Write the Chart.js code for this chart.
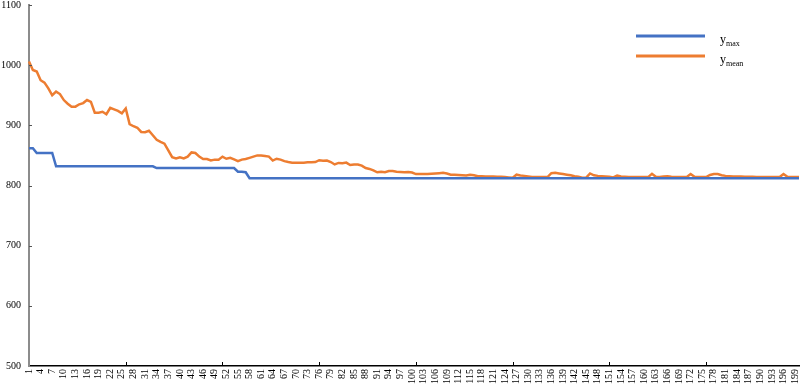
<!DOCTYPE html>
<html>
<head>
<meta charset="utf-8">
<script src="https://cdn.jsdelivr.net/npm/chart.js@4.4.1/dist/chart.umd.min.js"></script>
<style>
  body { margin: 0; background: #fff; }
</style>
</head>
<body>
<canvas id="convChart" width="801" height="388"></canvas>
<script>
// Iterazioni 1..200 (asse X)
const categories = Array.from({ length: 200 }, (_, i) => String(i + 1));

// Valori
const yMax = [
  862, 862, 854, 854, 854, 854, 854, 832, 832, 832,
  832, 832, 832, 832, 832, 832, 832, 832, 832, 832,
  832, 832, 832, 832, 832, 832, 832, 832, 832, 832,
  832, 832, 832, 829, 829, 829, 829, 829, 829, 829,
  829, 829, 829, 829, 829, 829, 829, 829, 829, 829,
  829, 829, 829, 829, 823, 823, 822, 812, 812, 812,
  812, 812, 812, 812, 812, 812, 812, 812, 812, 812,
  812, 812, 812, 812, 812, 812, 812, 812, 812, 812,
  812, 812, 812, 812, 812, 812, 812, 812, 812, 812,
  812, 812, 812, 812, 812, 812, 812, 812, 812, 812,
  812, 812, 812, 812, 812, 812, 812, 812, 812, 812,
  812, 812, 812, 812, 812, 812, 812, 812, 812, 812,
  812, 812, 812, 812, 812, 812, 812, 812, 812, 812,
  812, 812, 812, 812, 812, 812, 812, 812, 812, 812,
  812, 812, 812, 812, 812, 812, 812, 812, 812, 812,
  812, 812, 812, 812, 812, 812, 812, 812, 812, 812,
  812, 812, 812, 812, 812, 812, 812, 812, 812, 812,
  812, 812, 812, 812, 812, 812, 812, 812, 812, 812,
  812, 812, 812, 812, 812, 812, 812, 812, 812, 812,
  812, 812, 812, 812, 812, 812, 812, 812, 812, 812
];

const yMean = [
  1006, 992, 989.5, 975, 971, 961.5, 950, 956, 952, 942,
  936, 931, 931, 935, 937, 942, 939, 921, 921, 922.5,
  918.5, 929, 926.5, 924, 920, 928, 902, 898.5, 896, 889,
  888.5, 891, 883.5, 876, 872.5, 869.5, 858.5, 847, 845, 847,
  845, 848, 855, 854, 848, 844, 844, 841.5, 843, 843,
  848, 844.5, 846, 843.5, 840.5, 843, 844, 846, 848, 850,
  850, 849, 848, 841.5, 844.5, 843, 840.5, 839, 838, 838,
  838, 838, 838.5, 838.5, 839, 842, 841, 841.5, 839, 835,
  837.5, 837, 838, 834, 835, 835, 833, 829, 827.5, 825,
  822, 823, 822, 824, 824, 823, 822.5, 822, 822.5, 821.5,
  819, 819, 819, 819, 819.5, 820, 820.5, 821, 820, 818,
  818, 817.5, 817, 816.5, 818, 817, 815.5, 815.5, 815, 815,
  815, 814.5, 814.5, 814, 813.5, 813, 818, 816.5, 816, 815,
  814, 814, 814, 814, 814, 820.5, 821, 820, 819, 818,
  817, 815.5, 814.5, 813, 813, 820, 817, 816, 815.5, 815,
  814.5, 813.5, 816.5, 815, 814.5, 814, 814, 814, 814, 814,
  814, 819.5, 814.5, 814, 815, 815.5, 814.5, 814, 814, 814,
  814, 819, 814.5, 814, 814, 814, 817.5, 819, 819, 817,
  816, 815.5, 815, 815, 815, 814.5, 814.5, 814.5, 814, 814,
  814, 814, 814, 814, 814, 819, 814.5, 814, 814, 814
];

const yTicks = [500, 600, 700, 800, 900, 1000, 1100];

const BLUE = '#4472C4';
const ORANGE = '#ED7D31';
const FONT = "'Liberation Serif', 'Times New Roman', serif";

// Tacche dell'asse X ogni 25 categorie, tacche Y interne e legenda con pedici
const extrasPlugin = {
  id: 'extras',
  afterDraw(chart) {
    const { ctx, scales: { x, y } } = chart;
    ctx.save();

    ctx.strokeStyle = '#000';
    ctx.lineWidth = 1;
    for (let i = 25; i < categories.length; i += 25) {
      const px = Math.round(x.getPixelForValue(i)) + 0.5;
      ctx.beginPath();
      ctx.moveTo(px, y.bottom);
      ctx.lineTo(px, y.bottom - 4);
      ctx.stroke();
    }
    ctx.strokeStyle = '#555';
    yTicks.slice(1).forEach(v => {
      const py = Math.round(y.getPixelForValue(v)) + 0.5;
      ctx.beginPath();
      ctx.moveTo(x.left, py);
      ctx.lineTo(x.left + 3, py);
      ctx.stroke();
    });

    // legenda
    const items = [
      { sub: 'max', color: BLUE, ly: 36 },
      { sub: 'mean', color: ORANGE, ly: 56 }
    ];
    items.forEach(it => {
      ctx.strokeStyle = it.color;
      ctx.lineWidth = 3;
      ctx.beginPath();
      ctx.moveTo(636, it.ly);
      ctx.lineTo(705, it.ly);
      ctx.stroke();
      ctx.fillStyle = '#000';
      ctx.textBaseline = 'alphabetic';
      ctx.font = '12px ' + FONT;
      ctx.fillText('y', 720, it.ly + 7);
      const w = ctx.measureText('y').width;
      ctx.font = '8px ' + FONT;
      ctx.fillText(it.sub, 720 + w, it.ly + 9.5);
    });
    ctx.restore();
  }
};

const ctx = document.getElementById('convChart').getContext('2d');

new Chart(ctx, {
  type: 'line',
  data: {
    labels: categories,
    datasets: [
      {
        label: 'ymax',
        data: yMax,
        borderColor: BLUE,
        borderWidth: 2.5,
        pointRadius: 0,
        tension: 0,
        fill: false
      },
      {
        label: 'ymean',
        data: yMean,
        borderColor: ORANGE,
        borderWidth: 2.5,
        pointRadius: 0,
        tension: 0,
        fill: false
      }
    ]
  },
  options: {
    responsive: false,
    animation: false,
    layout: { padding: { top: 2, right: 0, left: 0, bottom: 0 } },
    plugins: {
      legend: { display: false },
      tooltip: { enabled: false }
    },
    scales: {
      x: {
        offset: false,
        grid: { display: false, drawTicks: false },
        border: { display: true, color: '#000', width: 1.5 },
        ticks: {
          autoSkip: false,
          minRotation: 90,
          maxRotation: 90,
          padding: 3,
          color: '#000',
          font: { family: FONT, size: 10 },
          callback: (val, idx) => (idx % 3 === 0 ? categories[idx] : '')
        },
        afterFit(scale) {
          scale.height = 22;
          scale.paddingRight = 2;
          scale.paddingLeft = 0;
        }
      },
      y: {
        min: 500,
        max: 1100,
        grid: { display: false, drawTicks: false },
        border: { display: true, color: '#8c8c8c', width: 2 },
        ticks: {
          stepSize: 100,
          padding: 8,
          color: '#000',
          font: { family: FONT, size: 10 },
          callback: v => String(v)
        },
        afterFit(scale) {
          scale.width = 29;
          scale.paddingTop = 5;
          scale.paddingBottom = 0;
        }
      }
    }
  },
  plugins: [extrasPlugin]
});
</script>
</body>
</html>
